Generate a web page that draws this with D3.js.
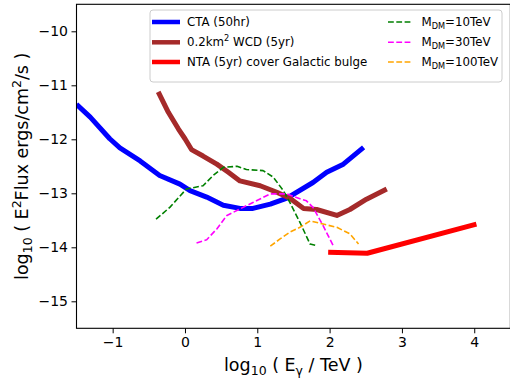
<!DOCTYPE html>
<html>
<head>
<meta charset="utf-8">
<script src="https://d3js.org/d3.v7.min.js"></script>
<style>
  body { margin: 0; background: #fff; }
  text { font-family: "DejaVu Sans", sans-serif; }
</style>
</head>
<body>
<div id="chart"></div>
<script>
// curves, [log10 E/TeV, log10 E^2 flux]
var cta = [[-1.50,-11.35],[-1.31,-11.59],[-1.04,-11.99],[-0.90,-12.16],[-0.62,-12.40],[-0.35,-12.67],
  [-0.07,-12.83],[0.07,-12.95],[0.30,-13.07],[0.53,-13.22],[0.76,-13.28],[0.94,-13.28],[1.18,-13.20],
  [1.41,-13.09],[1.77,-12.80],[1.96,-12.61],[2.19,-12.46],[2.47,-12.15]];
var wcd = [[-0.37,-11.12],[-0.23,-11.50],[-0.09,-11.81],[0.0,-11.99],[0.09,-12.19],[0.25,-12.31],
  [0.44,-12.46],[0.60,-12.61],[0.76,-12.77],[1.04,-12.86],[1.27,-12.98],[1.45,-13.09],[1.64,-13.28],
  [1.82,-13.30],[2.10,-13.41],[2.28,-13.30],[2.51,-13.11],[2.79,-12.92]];
var nta = [[1.98,-14.09],[2.52,-14.11],[4.03,-13.57]];
var dm10 = [[-0.40,-13.48],[-0.21,-13.26],[0.02,-12.92],[0.25,-12.86],[0.39,-12.67],[0.53,-12.52],
  [0.72,-12.50],[0.85,-12.56],[1.08,-12.58],[1.22,-12.70],[1.36,-12.95],[1.45,-13.17],[1.59,-13.54],
  [1.73,-13.94],[1.82,-13.97]];
var dm30 = [[0.16,-13.92],[0.30,-13.86],[0.44,-13.66],[0.58,-13.41],[0.76,-13.29],[0.94,-13.17],
  [1.18,-13.01],[1.41,-13.01],[1.50,-13.06],[1.68,-13.14],[1.77,-13.26],[1.91,-13.60],[2.05,-13.97]];
var dm100 = [[1.18,-13.98],[1.31,-13.85],[1.45,-13.72],[1.59,-13.63],[1.73,-13.51],[1.91,-13.57],
  [2.10,-13.63],[2.28,-13.75],[2.40,-13.94]];

var xTicks = [-1, 0, 1, 2, 3, 4];
var yTicks = [-10, -11, -12, -13, -14, -15];

var W = 510, H = 378;
var pLeft = 76.5, pRight = 510.4, pTop = 4.3, pBottom = 328.3;

var x = d3.scaleLinear().domain([-1.5, 4.5]).range([pLeft, pRight]);
var y = d3.scaleLinear().domain([-15.5, -9.5]).range([pBottom, pTop]);

var svg = d3.select("#chart").append("svg")
  .attr("width", W).attr("height", H);
svg.append("rect").attr("width", W).attr("height", H).attr("fill", "#fff");

svg.append("clipPath").attr("id", "clip")
  .append("rect").attr("x", pLeft).attr("y", pTop)
  .attr("width", pRight - pLeft).attr("height", pBottom - pTop);

var line = d3.line().x(d => x(d[0])).y(d => y(d[1]));
var plot = svg.append("g").attr("clip-path", "url(#clip)");

var series = [
  {data: cta, color: "#0000ff", w: 5, dash: null},
  {data: wcd, color: "#a52a2a", w: 5, dash: null},
  {data: nta, color: "#ff0000", w: 5, dash: null},
  {data: dm10, color: "#008000", w: 1.6, dash: "5.8,2.5"},
  {data: dm30, color: "#ff00ff", w: 1.6, dash: "5.8,2.5"},
  {data: dm100, color: "#ffa500", w: 1.6, dash: "5.8,2.5"}
];

series.forEach(function(s) {
  plot.append("path").datum(s.data)
    .attr("d", line)
    .attr("fill", "none")
    .attr("stroke", s.color)
    .attr("stroke-width", s.w)
    .attr("stroke-dasharray", s.dash)
    .attr("stroke-linejoin", "round");
});

// axes
var fmt = d3.format("d");
var xAxis = svg.append("g").attr("transform", "translate(0," + pBottom + ")")
  .call(d3.axisBottom(x).tickValues(xTicks).tickFormat(fmt).tickSize(5).tickPadding(3.5).tickSizeOuter(0));
var yAxis = svg.append("g").attr("transform", "translate(" + pLeft + ",0)")
  .call(d3.axisLeft(y).tickValues(yTicks).tickFormat(fmt).tickSize(5).tickPadding(3.5).tickSizeOuter(0));
[xAxis, yAxis].forEach(function(a) {
  a.select(".domain").remove();
  a.selectAll("text").attr("font-size", 14).attr("fill", "#000")
    .style("font-family", "DejaVu Sans");
  a.selectAll("line").attr("stroke", "#000").attr("stroke-width", 1);
});

svg.append("rect")
  .attr("x", pLeft).attr("y", pTop)
  .attr("width", pRight - pLeft).attr("height", pBottom - pTop)
  .attr("fill", "none").attr("stroke", "#000").attr("stroke-width", 1.1);

// x label
var xl = svg.append("text").attr("x", (pLeft + pRight) / 2).attr("y", 371)
  .attr("text-anchor", "middle").attr("font-size", 17.5);
xl.append("tspan").text("log");
xl.append("tspan").attr("font-size", 12.5).attr("dy", 4).text("10");
xl.append("tspan").attr("dy", -4).text(" ( E");
xl.append("tspan").attr("font-size", 12.5).attr("dy", 4).text("γ");
xl.append("tspan").attr("dy", -4).text(" / TeV )");

// y label
var yl = svg.append("text")
  .attr("transform", "translate(28," + (pTop + pBottom) / 2 + ") rotate(-90)")
  .attr("text-anchor", "middle").attr("font-size", 17.5);
yl.append("tspan").text("log");
yl.append("tspan").attr("font-size", 12.5).attr("dy", 4).text("10");
yl.append("tspan").attr("dy", -4).text(" ( E");
yl.append("tspan").attr("font-size", 12.5).attr("dy", -7).text("2");
yl.append("tspan").attr("dy", 7).text("Flux ergs/cm");
yl.append("tspan").attr("font-size", 12.5).attr("dy", -7).text("2");
yl.append("tspan").attr("dy", 7).text("/s )");

// legend
var lg = svg.append("g");
lg.append("rect").attr("x", 150).attr("y", 10).attr("width", 352).attr("height", 72)
  .attr("rx", 3).attr("fill", "#fff").attr("fill-opacity", 0.8)
  .attr("stroke", "#cccccc").attr("stroke-width", 1);

var legendLeft = [
  {s: series[0], label: ["CTA (50hr)"]},
  {s: series[1], label: ["0.2km", "2", " WCD (5yr)"]},
  {s: series[2], label: ["NTA (5yr) cover Galactic bulge"]}
];
var legendRight = [
  {s: series[3], label: ["M", "DM", "=10TeV"]},
  {s: series[4], label: ["M", "DM", "=30TeV"]},
  {s: series[5], label: ["M", "DM", "=100TeV"]}
];
var rowY = [22, 42.3, 62];

function legendRow(item, i, x0, x1, tx, sup) {
  var yy = rowY[i];
  lg.append("line").attr("x1", x0).attr("x2", x1).attr("y1", yy).attr("y2", yy)
    .attr("stroke", item.s.color)
    .attr("stroke-width", item.s.dash ? 1.6 : 4.5)
    .attr("stroke-dasharray", item.s.dash);
  var t = lg.append("text").attr("x", tx).attr("y", yy + 4).attr("font-size", 11.8).attr("fill", "#000");
  t.append("tspan").text(item.label[0]);
  if (item.label.length > 1) {
    if (sup) {
      t.append("tspan").attr("font-size", 8.2).attr("dy", -5).text(item.label[1]);
      t.append("tspan").attr("dy", 5).text(item.label[2]);
    } else {
      t.append("tspan").attr("font-size", 8.2).attr("dy", 2.5).text(item.label[1]);
      t.append("tspan").attr("dy", -2.5).text(item.label[2]);
    }
  }
}
legendLeft.forEach(function(d, i) { legendRow(d, i, 152, 180, 187, true); });
legendRight.forEach(function(d, i) { legendRow(d, i, 388, 412, 421.5, false); });
</script>
</body>
</html>
